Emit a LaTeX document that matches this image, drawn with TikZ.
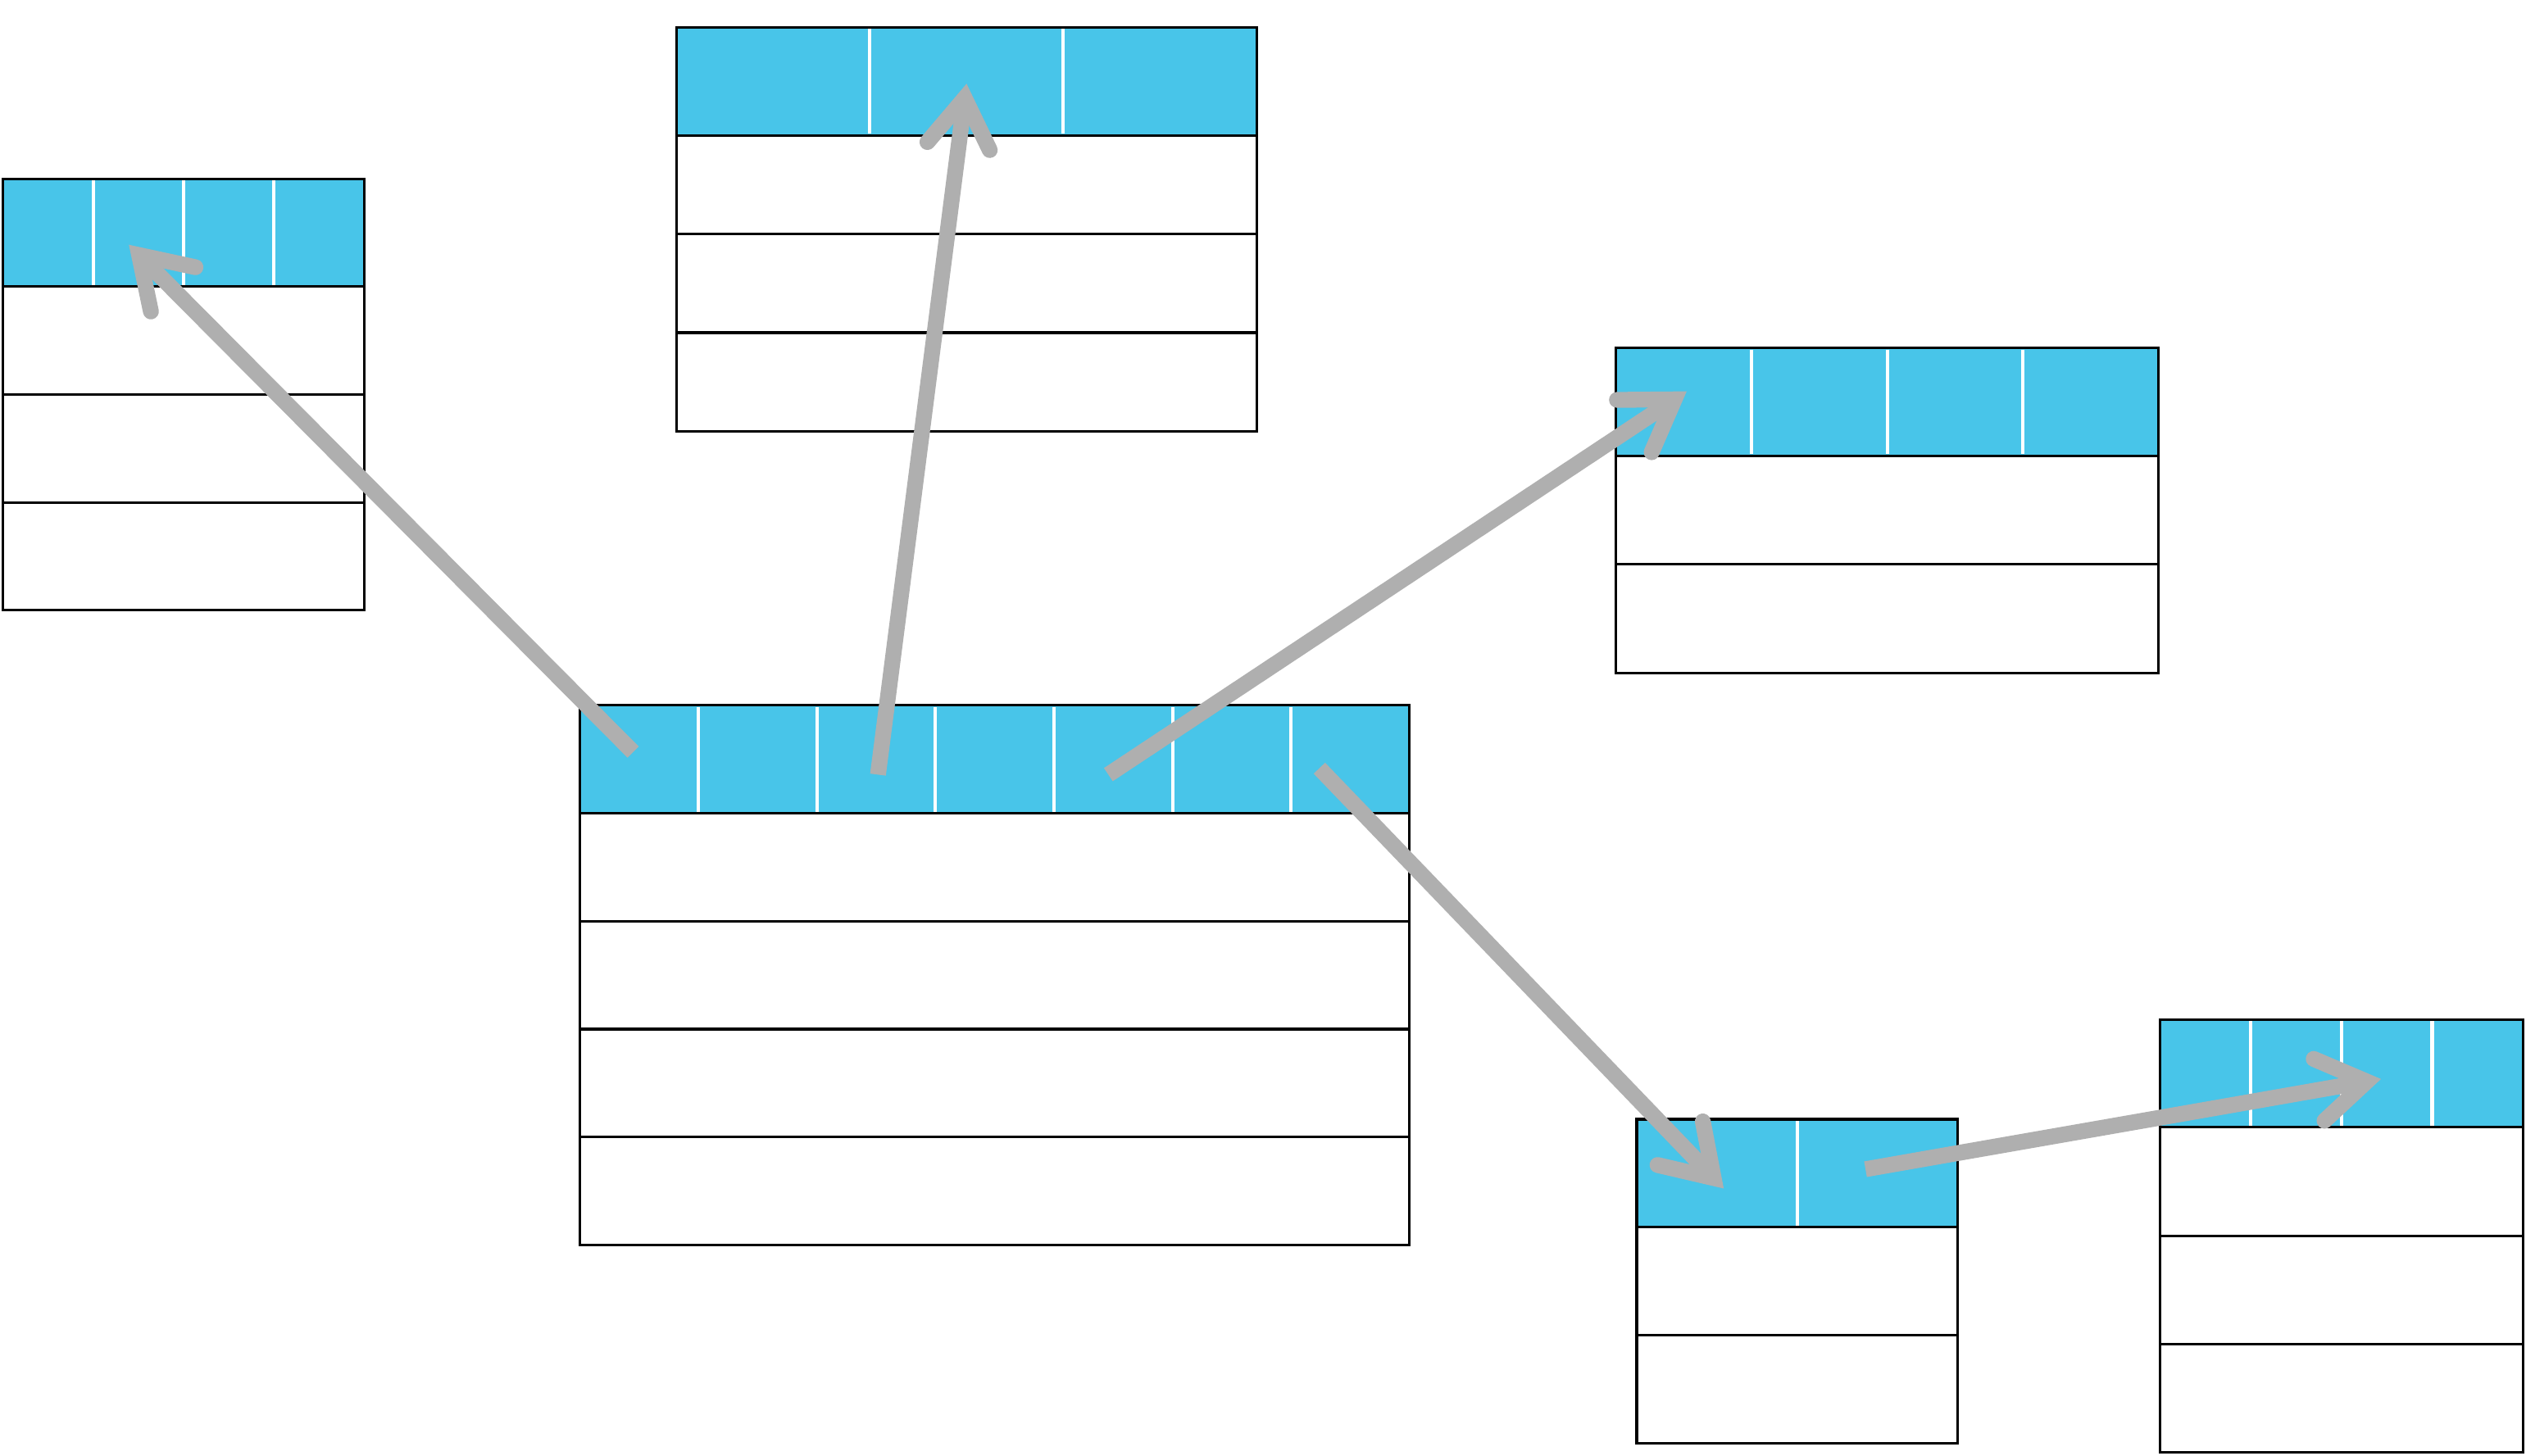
\documentclass[tikz,border=0pt]{standalone}
\usepackage{tikz}
\usetikzlibrary{arrows.meta,positioning,calc}
\definecolor{headblue}{RGB}{72,197,233}
\definecolor{linkgray}{RGB}{175,175,175}

\begin{document}
\begin{tikzpicture}[
  x=0.1mm, y=-0.1mm,
  head/.style={draw=black, fill=headblue, line width=0.45pt, minimum height=6.7mm, outer sep=0pt, inner sep=0pt, anchor=north west},
  row/.style={draw=black, fill=white, line width=0.45pt, minimum height=6.7mm, outer sep=0pt, inner sep=0pt},
  divider/.style={white, line width=0.6pt, shorten <=0.3pt, shorten >=0.3pt},
  link/.style={-{Straight Barb[length=3.0mm, width=3.9mm, line cap=round, line join=miter]}, linkgray, line width=2.8pt}
]
\useasboundingbox (0,0) rectangle (1568,904);

% left table
\node[head, minimum width=22.4mm] (L-head) at (2,111) {};
\node[row, minimum width=22.4mm, below=0pt of L-head] (L-r1) {};
\node[row, minimum width=22.4mm, below=0pt of L-r1] (L-r2) {};
\node[row, minimum width=22.4mm, below=0pt of L-r2] (L-r3) {};

% top table
\node[head, minimum width=36mm] (T-head) at (420,17) {};
\node[row, minimum width=36mm, minimum height=6.13mm, below=0pt of T-head] (T-r1) {};
\node[row, minimum width=36mm, minimum height=6.13mm, below=0pt of T-r1] (T-r2) {};
\node[row, minimum width=36mm, minimum height=6.13mm, below=0pt of T-r2] (T-r3) {};

% central table
\node[head, minimum width=51.5mm] (C-head) at (360,438) {};
\node[row, minimum width=51.5mm, below=0pt of C-head] (C-r1) {};
\node[row, minimum width=51.5mm, below=0pt of C-r1] (C-r2) {};
\node[row, minimum width=51.5mm, below=0pt of C-r2] (C-r3) {};
\node[row, minimum width=51.5mm, below=0pt of C-r3] (C-r4) {};

% right table
\node[head, minimum width=33.7mm] (R-head) at (1003,216) {};
\node[row, minimum width=33.7mm, minimum height=6.75mm, below=0pt of R-head] (R-r1) {};
\node[row, minimum width=33.7mm, minimum height=6.75mm, below=0pt of R-r1] (R-r2) {};

% bottom table
\node[head, minimum width=19.9mm] (B-head) at (1016,695) {};
\node[row, minimum width=19.9mm, below=0pt of B-head] (B-r1) {};
\node[row, minimum width=19.9mm, below=0pt of B-r1] (B-r2) {};

% bottom right table
\node[head, minimum width=22.5mm] (BR-head) at (1341,633) {};
\node[row, minimum width=22.5mm, minimum height=6.73mm, below=0pt of BR-head] (BR-r1) {};
\node[row, minimum width=22.5mm, minimum height=6.73mm, below=0pt of BR-r1] (BR-r2) {};
\node[row, minimum width=22.5mm, minimum height=6.73mm, below=0pt of BR-r2] (BR-r3) {};

% header columns
\foreach \k in {1,2,3} \draw[divider] ($(L-head.north west)!\k/4!(L-head.north east)$) -- ($(L-head.south west)!\k/4!(L-head.south east)$);
\foreach \k in {1,2} \draw[divider] ($(T-head.north west)!\k/3!(T-head.north east)$) -- ($(T-head.south west)!\k/3!(T-head.south east)$);
\foreach \k in {1,...,6} \draw[divider] ($(C-head.north west)!\k/7!(C-head.north east)$) -- ($(C-head.south west)!\k/7!(C-head.south east)$);
\foreach \k in {1,2,3} \draw[divider] ($(R-head.north west)!\k/4!(R-head.north east)$) -- ($(R-head.south west)!\k/4!(R-head.south east)$);
\draw[divider] (B-head.north) -- (B-head.south);
\foreach \k in {1,2,3} \draw[divider] ($(BR-head.north west)!\k/4!(BR-head.north east)$) -- ($(BR-head.south west)!\k/4!(BR-head.south east)$);

% links
\draw[link] ([shift={(33,29)}]C-head.north west) -- ([shift={(78,41)}]L-head.north west);
\draw[link] ([shift={(185,43)}]C-head.north west) -- ([shift={(180,35)}]T-head.north west);
\draw[link] ([shift={(328,43)}]C-head.north west) -- ([shift={(44,27)}]R-head.north west);
\draw[link] ([shift={(459,39)}]C-head.north west) -- ([shift={(54,43)}]B-head.north west);
\draw[link] ([shift={(142,31)}]B-head.north west) -- ([shift={(137,37)}]BR-head.north west);
\end{tikzpicture}
\end{document}
